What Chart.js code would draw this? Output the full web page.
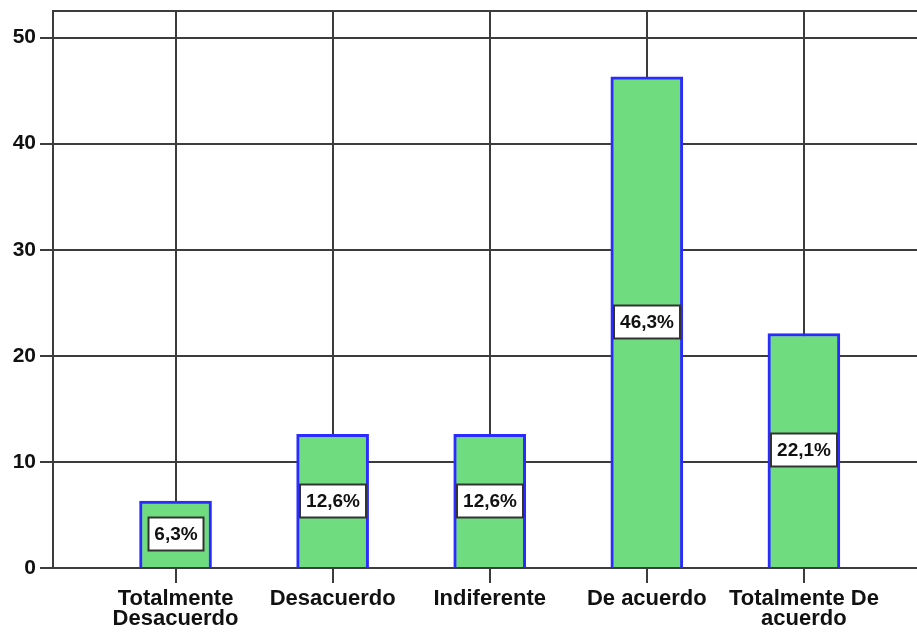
<!DOCTYPE html>
<html>
<head>
<meta charset="utf-8">
<script src="https://cdn.jsdelivr.net/npm/chart.js@4/dist/chart.umd.min.js"></script>
<style>
  html, body { margin: 0; padding: 0; background: #fff; }
  #wrap { width: 917px; height: 633px; position: relative; }
</style>
</head>
<body>
<div id="wrap"><canvas id="c"></canvas></div>
<script>
const categories = [
  ['Totalmente', 'Desacuerdo'],
  'Desacuerdo',
  'Indiferente',
  'De acuerdo',
  ['Totalmente De', 'acuerdo']
];
const percentValues = [6.3, 12.6, 12.6, 46.3, 22.1];
const yTickValues = [0, 10, 20, 30, 40, 50];

const FONT = '"Liberation Sans", Arial, sans-serif';
const GRID = '#3c3c3c';

const points = percentValues.map((v, i) => ({ x: i, y: v }));

const labelBoxes = {
  id: 'labelBoxes',
  afterDatasetsDraw(chart) {
    const ctx = chart.ctx;
    const meta = chart.getDatasetMeta(0);
    ctx.save();
    ctx.font = 'bold 19px ' + FONT;
    ctx.textAlign = 'center';
    ctx.textBaseline = 'middle';
    meta.data.forEach((bar, i) => {
      const txt = percentValues[i].toFixed(1).replace('.', ',') + '%';
      const w = Math.round(ctx.measureText(txt).width + 12);
      const h = 33;
      const cx = Math.round(bar.x);
      const cy = Math.round((bar.y + bar.base) / 2);
      ctx.fillStyle = '#ffffff';
      ctx.fillRect(cx - w / 2, cy - h / 2, w, h);
      ctx.lineWidth = 2;
      ctx.strokeStyle = '#333333';
      ctx.strokeRect(cx - w / 2, cy - h / 2, w, h);
      ctx.fillStyle = '#111111';
      ctx.fillText(txt, cx, cy + 1);
    });
    ctx.restore();
  }
};

const topBorder = {
  id: 'topBorder',
  beforeDatasetsDraw(chart) {
    const { ctx, chartArea } = chart;
    ctx.save();
    ctx.strokeStyle = GRID;
    ctx.lineWidth = 2;
    ctx.beginPath();
    ctx.moveTo(chartArea.left - 1, chartArea.top);
    ctx.lineTo(chartArea.right, chartArea.top);
    ctx.stroke();
    ctx.restore();
  }
};

new Chart(document.getElementById('c'), {
  type: 'bar',
  data: {
    datasets: [{
      data: points,
      backgroundColor: '#70DC80',
      borderColor: '#2B2BFF',
      borderWidth: 3,
      barThickness: 72
    }]
  },
  options: {
    responsive: true,
    maintainAspectRatio: false,
    animation: false,
    layout: { padding: { top: 11, right: 0, left: 0, bottom: 0 } },
    plugins: {
      legend: { display: false },
      tooltip: { enabled: false }
    },
    scales: {
      x: {
        type: 'linear',
        offset: false,
        min: -0.78,
        max: 4.72,
        afterBuildTicks: (s) => { s.ticks = categories.map((_, i) => ({ value: i })); },
        afterFit: (s) => { s.height = 65; s.paddingLeft = 0; s.paddingRight = 0; },
        grid: {
          offset: false,
          color: GRID,
          lineWidth: 2,
          drawTicks: true,
          tickLength: 15,
          tickColor: GRID,
          tickWidth: 2
        },
        border: { display: true, color: GRID, width: 2 },
        ticks: {
          autoSkip: false,
          maxRotation: 0,
          minRotation: 0,
          padding: 5,
          color: '#111',
          font: { family: FONT, size: 22, weight: 'bold', lineHeight: 0.95 },
          callback: (v) => categories[v]
        }
      },
      y: {
        min: 0,
        max: 52.5,
        afterBuildTicks: (s) => { s.ticks = yTickValues.map(v => ({ value: v })); },
        afterFit: (s) => { s.width = 53; s.paddingTop = 0; s.paddingBottom = 0; },
        grid: {
          color: GRID,
          lineWidth: 2,
          drawTicks: true,
          tickLength: 13,
          tickColor: GRID,
          tickWidth: 2
        },
        border: { display: true, color: GRID, width: 2 },
        ticks: {
          padding: 4,
          color: '#111',
          font: { family: FONT, size: 21, weight: 'bold' },
          callback: (v) => String(v)
        }
      }
    }
  },
  plugins: [topBorder, labelBoxes]
});
</script>
</body>
</html>
